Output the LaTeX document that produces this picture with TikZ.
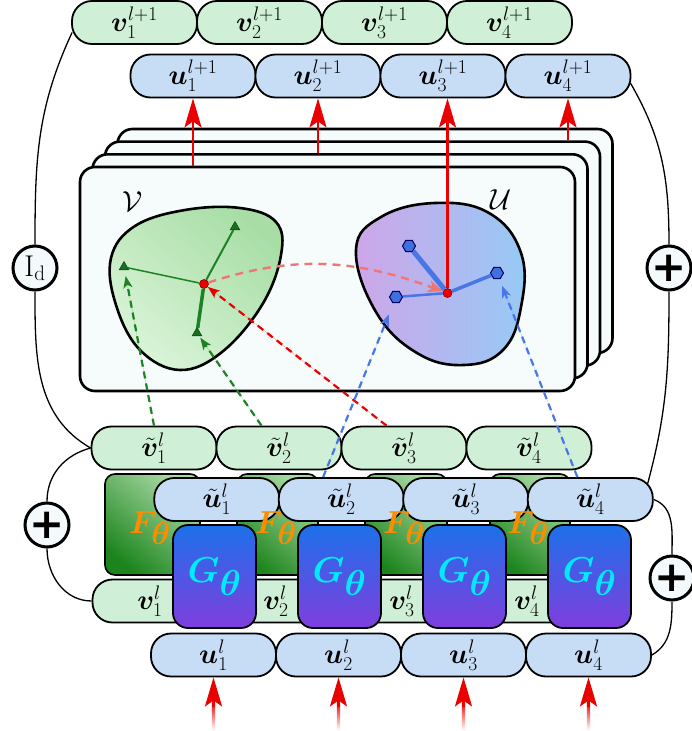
\RequirePackage{fix-cm}
\documentclass[tikz,border=0pt]{standalone}
\usepackage{amsmath,bm}
\usepackage[no-math]{fontspec}
\setmainfont{Liberation Serif}
\newfontfamily\plusfont{DejaVu Sans}
\usetikzlibrary{arrows.meta,shapes.geometric,calc,backgrounds}
\definecolor{pillG}{RGB}{207,240,214}
\definecolor{pillB}{RGB}{199,221,246}
\definecolor{frameF}{RGB}{246,251,252}
\definecolor{redA}{RGB}{235,0,0}
\definecolor{dgreen}{RGB}{30,130,36}
\definecolor{dblue}{RGB}{72,118,228}
\definecolor{Gtop}{RGB}{28,112,234}
\definecolor{Gbot}{RGB}{128,62,222}
\definecolor{Fdark}{RGB}{28,132,28}
\definecolor{Flight}{RGB}{168,218,164}
\definecolor{orangeF}{RGB}{252,140,0}
\definecolor{cyanG}{RGB}{0,235,255}
\definecolor{Ublue}{RGB}{150,202,246}
\definecolor{Upurple}{RGB}{206,166,232}
\definecolor{Vgreen}{RGB}{168,222,166}
\definecolor{Vlight}{RGB}{218,244,216}
\definecolor{circF}{RGB}{244,250,251}
\definecolor{hexF}{RGB}{62,112,222}
\tikzset{
  pill/.style={draw=black, line width=1.8pt, rounded corners=20pt, minimum width=125pt, minimum height=43pt, inner sep=0pt, font=\fontsize{28}{30}\selectfont},
  gpill/.style={pill, fill=pillG},
  bpill/.style={pill, fill=pillB},
  card/.style={draw=black, line width=2.6pt, rounded corners=15pt, fill=frameF, minimum width=495pt, minimum height=224pt, inner sep=0pt},
  blob/.style={draw=black, line width=2.6pt},
  tri/.style={regular polygon, regular polygon sides=3, minimum size=11pt, inner sep=0pt, fill=dgreen!85!black, draw=dgreen!60!black, line width=0.6pt},
  hexm/.style={regular polygon, regular polygon sides=6, minimum size=13pt, inner sep=0pt, fill=hexF, draw=black!60!blue, line width=1pt},
  rdot/.style={circle, minimum size=9pt, inner sep=0pt, fill=redA, draw=red!50!black, line width=0.6pt},
  redarrow/.style={draw=redA, line width=2.6pt, -{Stealth[length=29pt,width=17pt,inset=6pt]}},
  dashline/.style={line width=2.2pt, dash pattern=on 7pt off 5pt, -{Stealth[length=12pt,width=9pt,inset=3pt]}},
  conn/.style={draw=black, line width=1.3pt},
  opc/.style={circle, draw=black, line width=3pt, fill=circF, minimum size=44pt, inner sep=0pt},
  fbox/.style={draw=black, line width=1.6pt, rounded corners=10pt, minimum height=101pt, inner sep=0pt, top color=Flight, bottom color=Fdark, shading angle=-40},
  gbox/.style={draw=black, line width=1.8pt, rounded corners=15pt, minimum width=83pt, minimum height=103pt, inner sep=0pt, top color=Gtop, bottom color=Gbot, text=cyanG, font=\fontsize{36}{38}\selectfont},
  flab/.style={text=orangeF, font=\fontsize{32}{34}\selectfont, inner sep=0pt},
  setlab/.style={font=\fontsize{29}{30}\selectfont, inner sep=0pt},
  pluslab/.style={font=\plusfont\bfseries\fontsize{42}{42}\selectfont},
}
\begin{document}
\begin{tikzpicture}[x=1pt,y=-1pt]
\useasboundingbox (0,0) rectangle (692,731);

% stacked cards
\node[card] (fr4) at (365,241) {};
\node[card] (fr3) at (352.5,253.6) {};
\node[card] (fr2) at (340,266.3) {};
\node[card] (fr1) at (327.5,279) {};
\node[setlab] (lV) at (133,202) {$\mathcal{V}$};
\node[setlab] (lU) at (501,200) {$\mathcal{U}$};

% blobs
\draw[blob, top color=Vgreen, bottom color=Vlight, shading angle=-40]
  plot[smooth cycle, tension=0.65] coordinates {(111,258) (135,226) (185,210) (240,208) (276,222) (281,255) (262,305) (222,352) (180,370) (140,350) (116,305)};
\draw[blob, left color=Upurple, right color=Ublue]
  plot[smooth cycle, tension=0.7] coordinates {(356,250) (381,217) (435,203) (489,213) (521,253) (521,307) (503,350) (464,365) (417,353) (376,312)};

% markers
\node[rdot] (dV) at (204,284) {};
\node[rdot] (dU) at (447.5,293) {};
\node[tri] (tri1) at (235,227) {};
\node[tri] (tri2) at (124,267) {};
\node[tri] (tri3) at (197,333) {};
\node[hexm] (hex1) at (409,246) {};
\node[hexm] (hex2) at (497,273) {};
\node[hexm] (hex3) at (396,297) {};
\draw[dgreen, line width=2pt] (dV) -- (tri1);
\draw[dgreen, line width=1.5pt] (dV) -- (tri2);
\draw[dgreen, line width=3.5pt] (dV) -- (tri3);
\draw[dblue, line width=5pt] (dU) -- (hex1);
\draw[dblue, line width=3.5pt] (dU) -- (hex2);
\draw[dblue, line width=2.5pt] (dU) -- (hex3);
\draw[draw=redA!55, line width=2.4pt, dash pattern=on 8pt off 6pt, -{Stealth[length=15pt,width=12pt,inset=4pt]}] (dV) to[out=18,in=160] (dU);

% top pills
\foreach \i in {1,...,4}{
  \node[gpill] (vp\i) at ({134.5+125*(\i-1)},22.5) {$\boldsymbol{v}_{\i}^{l+1}$};
  \node[bpill] (up\i) at ({193+125*(\i-1)},76) {$\boldsymbol{u}_{\i}^{l+1}$};
}
% red arrows up
\draw[redarrow] (fr1.north -| up1) -- (up1.south);
\draw[redarrow] (fr2.north -| up2) -- (up2.south);
\draw[redarrow] (dU) -- (dU |- up3.south);
\draw[redarrow] (fr3.north -| up4) -- (up4.south);

% tilde v pills
\foreach \i in {1,...,4}{
  \node[gpill] (vt\i) at ({154+125*(\i-1)},448) {$\tilde{\boldsymbol{v}}_{\i}^{l}$};
}
% F boxes
\node[fbox, minimum width=95pt] (F1) at (152.5,524.5) {};
\node[fbox, minimum width=81pt] (F2) at (277.5,524.5) {};
\node[fbox, minimum width=82pt] (F3) at (406,524.5) {};
\node[fbox, minimum width=80pt] (F4) at (530,524.5) {};
% tilde u pills
\foreach \i in {1,...,4}{
  \node[bpill] (ut\i) at ({216.8+124.5*(\i-1)},499.5) {$\tilde{\boldsymbol{u}}_{\i}^{l}$};
}
% dashed links
\draw[dashline, draw=dgreen, fill=dgreen, shorten >=6pt] (vt1.north) -- (tri2);
\draw[dashline, draw=dgreen, fill=dgreen, shorten >=2pt] (vt2.128) -- (tri3);
\draw[dashline, draw=redA, fill=redA] (vt3.128) -- (dV);
\draw[dashline, draw=dblue, fill=dblue, shorten >=12pt] (ut2.129) -- (hex3);
\draw[dashline, draw=dblue, fill=dblue, shorten >=7pt] (ut4.120) -- (hex2);

% F labels
\foreach \i/\x in {1/150,2/276,3/404,4/528}{
  \node[flab] (Fl\i) at (\x,528) {$\boldsymbol{F_{\textstyle\theta}}$};
}
% v^l pills
\foreach \i in {1,...,4}{
  \node[gpill] (vl\i) at ({155+125*(\i-1)},601) {};
}
\foreach \i/\x in {1/150,2/276,3/402,4/527}{
  \node[font=\fontsize{28}{30}\selectfont, inner sep=0pt] (vll\i) at (\x,601) {$\boldsymbol{v}_{\i}^{l}$};
}
% G boxes
\foreach \i in {1,...,4}{
  \node[gbox] (G\i) at ({214.5+125*(\i-1)},576.5) {$\boldsymbol{G_{\textstyle\theta}}$};
}
% u^l pills
\foreach \i in {1,...,4}{
  \node[bpill] (ul\i) at ({213.5+125*(\i-1)},655) {$\boldsymbol{u}_{\i}^{l}$};
}
% bottom arrows
\foreach \i in {1,...,4}{
  \coordinate (ba\i) at ($(ul\i.south)+(0,30)$);
  \shade[top color=redA, bottom color=white] ($(ul\i.south)+(-1.6,24)$) rectangle ($(ul\i.south)+(1.6,53)$);
  \draw[redarrow] (ba\i) -- (ul\i.south);
}

% operator circles
\node[opc, font=\fontsize{30}{32}\selectfont] (idc) at (35,268) {$\mathrm{I_d}$};
\node[opc, pluslab] (plL) at (47,525) {+};
\node[opc, pluslab] (plR) at (669,268) {+};
\node[opc, pluslab] (plR2) at (672,578) {+};

\begin{scope}[on background layer]
\draw[conn] ($(vp1.west)+(1,10)$) to[out=245,in=90] (idc.north);
\draw[conn] (idc.south) to[out=-90,in=150] (vt1.west);
\draw[conn] (vt1.west) to[out=195,in=90] (plL.north);
\draw[conn] (plL.south) to[out=-90,in=180] (vl1.west);
\draw[conn] ($(up4.east)+(-1,7)$) to[out=-60,in=90] (plR.north);
\draw[conn] (plR.south) to[out=-90,in=75] ($(ut4.east)+(-6,-16)$);
\draw[conn] (ut4.east) to[out=-20,in=90] (plR2.north);
\draw[conn] (plR2.south) to[out=-90,in=30] (ul4.east);
\end{scope}
\end{tikzpicture}
\end{document}
